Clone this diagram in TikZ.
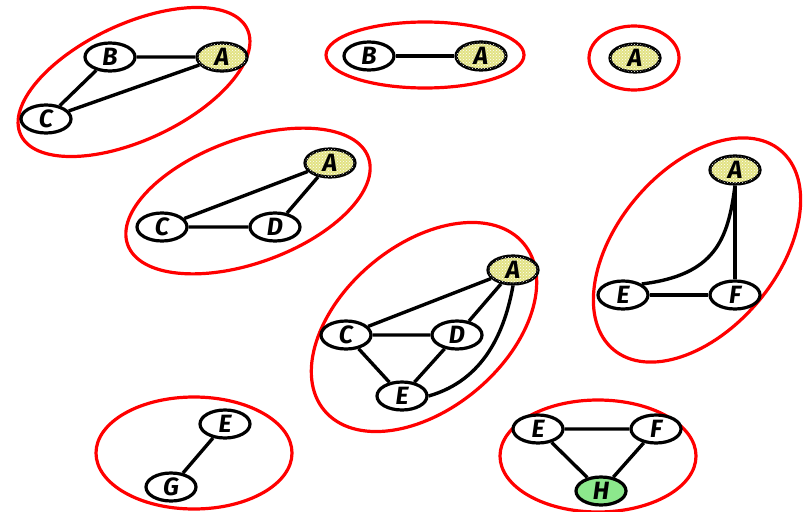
\documentclass[tikz,border=0pt]{standalone}
\usepackage{fontspec}
\setmainfont{Fira Sans}
\usetikzlibrary{shapes.geometric,patterns}
\definecolor{hatchyellow}{RGB}{226,226,132}
\definecolor{mintgreen}{RGB}{140,232,140}
\tikzset{
    vert/.style={ellipse,draw,line width=3.2pt,minimum width=50pt,minimum height=28pt,
        inner sep=0pt,fill=white,font=\fontsize{25}{25}\selectfont\bfseries\itshape},
    root/.style={vert,fill=hatchyellow,postaction={pattern=crosshatch dots,pattern color=white}},
    leaf/.style={vert,fill=mintgreen},
    edge/.style={line width=3.4pt},
    blob/.style={draw=red,line width=3.2pt}
}
\begin{document}
\begin{tikzpicture}[x=1pt,y=-1pt]
                \useasboundingbox (0,0) rectangle (810,511);
                % red clusters: centre, angle, radii
                \foreach \cx/\cy/\ang/\ra/\rb in {134/82/25/125/58, 425/55/0/99/33, 634/58/0/45/32,
                        248/201/20/128/62, 424/327/40/130/82, 697/250/50/130/80,
                        194/453/0/98/56, 598/456/0/98/56}{
                    \draw[blob,rotate around={\ang:(\cx,\cy)}] (\cx,\cy) ellipse[x radius=\ra,y radius=\rb];
                }
                % first row
                \node[vert] (B1) at (110,57) {B};
                \node[root] (A1) at (222,57) {A};
                \node[vert] (C1) at (46,119) {C};
                \draw[edge] (B1)--(A1) (B1)--(C1) (C1)--(A1);
                \node[vert] (B2) at (369,56) {B};
                \node[root] (A2) at (481,56) {A};
                \draw[edge] (B2)--(A2);
                \node[root] (A3) at (635,58) {A};
                % second row
                \node[root] (A4) at (330,163) {A};
                \node[vert] (C4) at (162,227) {C};
                \node[vert] (D4) at (275,227) {D};
                \draw[edge] (C4)--(A4) (C4)--(D4) (D4)--(A4);
                \node[root] (A5) at (513,270) {A};
                \node[vert] (C5) at (346,335) {C};
                \node[vert] (D5) at (457,335) {D};
                \node[vert] (E5) at (402,396) {E};
                \draw[edge] (C5)--(A5) (C5)--(D5) (D5)--(A5) (C5)--(E5) (D5)--(E5);
                \draw[edge] (E5.east) .. controls (485,380) and (505,330) .. (A5.south);
                \node[root] (A6) at (735,170) {A};
                \node[vert] (E6) at (623,295) {E};
                \node[vert] (F6) at (735,295) {F};
                \draw[edge] (A6)--(F6) (E6)--(F6);
                \draw[edge] (E6.north east) .. controls (715,275) and (728,240) .. (A6.south);
                % last row
                \node[vert] (E7) at (225,424) {E};
                \node[vert] (G7) at (171,487) {G};
                \draw[edge] (E7)--(G7);
                \node[vert] (E8) at (538,429) {E};
                \node[vert] (F8) at (656,429) {F};
                \node[leaf] (H8) at (601,491) {H};
                \draw[edge] (E8)--(F8) (E8)--(H8) (F8)--(H8);
            \end{tikzpicture}
\end{document}
